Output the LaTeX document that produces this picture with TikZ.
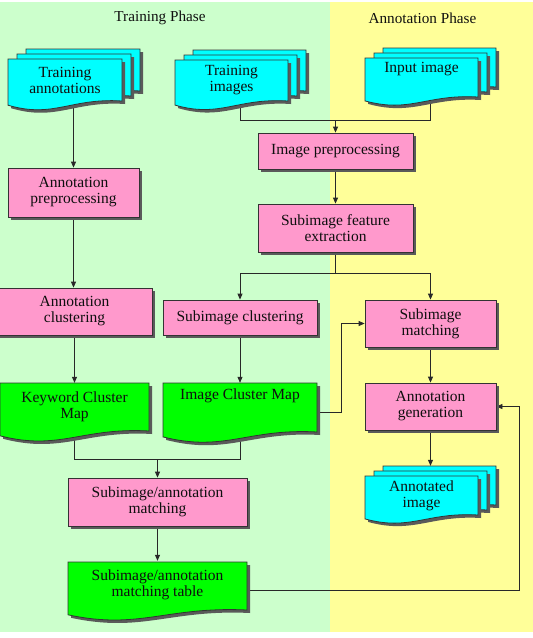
\documentclass[tikz,border=0pt]{standalone}
\usepackage{fontspec}
\setmainfont{Liberation Serif}
\newfontfamily\nodefont{Liberation Serif}
\usetikzlibrary{calc,arrows.meta,shadows}
\pgfdeclarelayer{bg}
\pgfdeclarelayer{lines}
\pgfsetlayers{bg,lines,main}
\definecolor{greenbg}{RGB}{204,255,204}
\definecolor{yellowbg}{RGB}{255,255,153}
\definecolor{pinkc}{RGB}{255,153,204}
\definecolor{cyanc}{RGB}{0,255,255}
\definecolor{greenc}{RGB}{0,255,0}
\definecolor{boxc}{RGB}{51,51,51}
\definecolor{shadowc}{RGB}{90,90,90}
\definecolor{linec}{RGB}{40,40,40}
\definecolor{textc}{RGB}{15,15,15}
\newcommand\onedoc[5]{%
  \fill[shadowc,shift={(3,3)}] ({#1},{#2}) -- ({#3},{#2}) -- ({#3},{#4})
    .. controls ({(#3)-0.45*((#3)-(#1))},{(#4)-0.08*((#4)-(#2))}) and ({(#1)+0.4*((#3)-(#1))},{(#4)+0.42*((#4)-(#2))}) .. ({#1},{(#4)+0.1*((#4)-(#2))}) -- cycle;
  \filldraw[draw=boxc,line width=0.8pt,fill=#5] ({#1},{#2}) -- ({#3},{#2}) -- ({#3},{#4})
    .. controls ({(#3)-0.45*((#3)-(#1))},{(#4)-0.08*((#4)-(#2))}) and ({(#1)+0.4*((#3)-(#1))},{(#4)+0.42*((#4)-(#2))}) .. ({#1},{(#4)+0.1*((#4)-(#2))}) -- cycle;
}
\newcommand\multidoc[5]{%
  \begin{scope}[shift={(18,-10)}]\onedoc{#1}{#2}{#3}{#4}{#5}\end{scope}
  \begin{scope}[shift={(9,-5)}]\onedoc{#1}{#2}{#3}{#4}{#5}\end{scope}
  \onedoc{#1}{#2}{#3}{#4}{#5}%
}
\tikzset{
  every node/.style={font=\nodefont\fontsize{15.5}{16}\selectfont, text=textc},
  box/.style={draw=boxc, line width=0.8pt, fill=pinkc, align=center, inner sep=0pt,
    drop shadow={shadow xshift=3pt, shadow yshift=-3pt, fill=shadowc, opacity=1}},
  docbox/.style={align=center, inner sep=0pt},
  conn/.style={draw=linec, line width=0.8pt},
  arr/.style={conn, -{Triangle[length=6pt,width=5pt]}},
  hdr/.style={font=\nodefont\fontsize{15.2}{16}\selectfont}
}
\begin{document}
\begin{tikzpicture}[x=1pt,y=-1pt]
\useasboundingbox (0,0) rectangle (533,638);
\begin{pgfonlayer}{bg}
  \fill[greenbg] (0,2) rectangle (330,632);
  \fill[yellowbg] (330,2) rectangle (533,632);
\end{pgfonlayer}
\node[hdr] (h1) at (160,18) {Training Phase};
\node[hdr] (h2) at (422.5,18) {Annotation Phase};

% documents
\multidoc{8}{59}{122}{101}{cyanc}
\node[docbox, minimum width=114pt, minimum height=42pt] (ta) at (65,80) {Training\\annotations};
\multidoc{175}{60}{288}{101}{cyanc}
\node[docbox, minimum width=113pt, minimum height=41pt] (ti) at (231.5,80.5) {Training\\images};
\multidoc{365}{58}{478}{97}{cyanc}
\node[docbox, minimum width=113pt, minimum height=39pt, text depth=20.4pt] (ii) at (421.5,77.5) {Input image};
\multidoc{365}{476}{478}{515}{cyanc}
\node[docbox, minimum width=113pt, minimum height=39pt] (ai) at (421.5,495.5) {Annotated\\image};
\onedoc{0}{383}{149}{431}{greenc}
\node[docbox, minimum width=149pt, minimum height=48pt] (kcm) at (74.5,407) {Keyword Cluster\\Map};
\onedoc{163}{383}{317}{432}{greenc}
\node[docbox, minimum width=154pt, minimum height=49pt, text depth=26.4pt] (icm) at (240,407.5) {Image Cluster Map};
\onedoc{68}{562}{247}{610}{greenc}
\node[docbox, minimum width=179pt, minimum height=48pt] (smt) at (157.5,585) {Subimage/annotation\\matching table};

% process boxes
\node[box, minimum width=155pt, minimum height=36pt] (ip) at (335.5,151) {Image preprocessing};
\node[box, minimum width=155pt, minimum height=48pt] (sfe) at (335.5,228) {Subimage feature\\extraction};
\node[box, minimum width=131pt, minimum height=49pt] (ap) at (73.5,192.5) {Annotation\\preprocessing};
\node[box, minimum width=155pt, minimum height=47pt] (ac) at (74.5,311.5) {Annotation\\clustering};
\node[box, minimum width=154pt, minimum height=35pt] (sc) at (240,317.5) {Subimage clustering};
\node[box, minimum width=131pt, minimum height=47pt] (sm) at (430.5,323.5) {Subimage\\matching};
\node[box, minimum width=131pt, minimum height=47pt] (ag) at (430.5,406.5) {Annotation\\generation};
\node[box, minimum width=179pt, minimum height=48pt] (sam) at (157.5,502) {Subimage/annotation\\matching};

\coordinate (j1) at ($(ip.north)+(0,-12)$);
\coordinate (j2) at ($(sfe.south)+(0,21)$);
\coordinate (j3) at ($(sam.north)+(0,-18)$);

\begin{pgfonlayer}{lines}
  \draw[arr] (ap.north |- ta.south) -- (ap.north);
  \draw[arr] (ap.south) -- (ap.south |- ac.north);
  \draw[arr] (ac.south) -- (ac.south |- kcm.north);
  \draw[conn] ($(ti.south)+(9,0)$) |- (j1);
  \draw[conn] ($(ii.south)+(9,0)$) |- (j1);
  \draw[arr] (j1) -- (ip.north);
  \draw[arr] (ip.south) -- (sfe.north);
  \draw[conn] (sfe.south) -- (j2);
  \draw[arr] (j2) -| (sc.north);
  \draw[arr] (j2) -| (sm.north);
  \draw[arr] (sc.south) -- (icm.north);
  \draw[arr] ($(icm.east)+(0,4.5)$) -- ++(24,0) |- (sm.west);
  \draw[conn] (kcm.south) |- (j3) -| (icm.south);
  \draw[arr] (j3) -- (sam.north);
  \draw[arr] (sam.south) -- (smt.north);
  \draw[arr] ($(smt.east)+(0,5)$) -- ++(272,0) |- (ag.east);
  \draw[arr] (sm.south) -- (ag.north);
  \draw[arr] (ag.south) -- ($(ai.north)+(9,-10)$);
\end{pgfonlayer}
\end{tikzpicture}
\end{document}
